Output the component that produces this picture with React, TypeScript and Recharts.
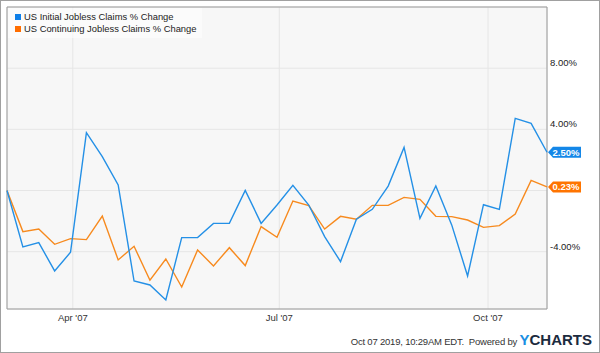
import {
  LineChart, Line, XAxis, YAxis, CartesianGrid,
  ReferenceDot, ReferenceArea,
} from 'recharts';

// week-ending dates (Saturdays)
const WEEKS = [
  '2007-03-03', '2007-03-10', '2007-03-17', '2007-03-24', '2007-03-31',
  '2007-04-07', '2007-04-14', '2007-04-21', '2007-04-28',
  '2007-05-05', '2007-05-12', '2007-05-19', '2007-05-26',
  '2007-06-02', '2007-06-09', '2007-06-16', '2007-06-23', '2007-06-30',
  '2007-07-07', '2007-07-14', '2007-07-21', '2007-07-28',
  '2007-08-04', '2007-08-11', '2007-08-18', '2007-08-25',
  '2007-09-01', '2007-09-08', '2007-09-15', '2007-09-22', '2007-09-29',
  '2007-10-06', '2007-10-13', '2007-10-20', '2007-10-27',
];

const INITIAL = [
  0.0, -3.69, -3.41, -5.26, -4.04, 3.78, 2.21, 0.36, -5.92, -6.18,
  -7.16, -3.08, -3.08, -2.15, -2.15, 0.01, -2.15, -0.95, 0.34, -0.95,
  -3.02, -4.65, -1.88, -1.23, 0.29, 2.82, -1.82, 0.29, -2.25, -5.59,
  -0.93, -1.23, 4.72, 4.39, 2.5,
];

const CONTINUING = [
  0.0, -2.69, -2.52, -3.52, -3.15, -3.21, -1.67, -4.54, -3.65, -5.87,
  -4.48, -6.31, -3.89, -4.93, -3.74, -4.91, -2.36, -3.06, -0.69, -0.99,
  -2.52, -1.69, -1.88, -0.97, -0.97, -0.45, -0.58, -1.69, -1.71, -1.93,
  -2.41, -2.3, -1.54, 0.66, 0.23,
];

const X_TICK_DATES = ['2007-04-01', '2007-07-01', '2007-10-01'];
const X_TICK_LABELS = ["Apr '07", "Jul '07", "Oct '07"];
const Y_TICKS = [-4, 0, 4, 8];

const BLUE = '#2490e6';
const ORANGE = '#f78a1e';
const TAG_BLUE = '#1487e8';
const TAG_ORANGE = '#ff7400';
const FONT = '"Liberation Sans", Arial, sans-serif';

const dayOf = (d: string) => (Date.parse(d) - Date.parse(WEEKS[0])) / 86400000;

const data = WEEKS.map((w, i) => ({
  day: dayOf(w),
  initial: INITIAL[i],
  continuing: CONTINUING[i],
}));

const X_TICKS = X_TICK_DATES.map(dayOf);
const LAST = data[data.length - 1];
const Y_MIN = -7.75;
const Y_MAX = 12;

function XTick({ x, y, payload }: any) {
  const idx = X_TICKS.indexOf(payload.value);
  return (
    <text x={x} y={y + 12} textAnchor="middle" fontSize={9.5} fontFamily={FONT} fill="#333">
      {X_TICK_LABELS[idx]}
    </text>
  );
}

function YTick({ x, y, payload }: any) {
  if (payload.value === 0) return null;
  return (
    <text x={x} y={y - 2} textAnchor="start" fontSize={9.5} fontFamily={FONT} fill="#222">
      {payload.value.toFixed(2)}%
    </text>
  );
}

function makeTag(color: string, text: string) {
  return (p: any) => {
    const { cx, cy } = p;
    return (
      <g>
        <path
          d={`M${cx + 1},${cy} l5,-5.5 h28 v11 h-28 z`}
          fill={color}
        />
        <text
          x={cx + 19} y={cy + 3.5} textAnchor="middle"
          fontSize={9.5} fontWeight="bold" fontFamily={FONT} fill="#fff"
        >
          {text}
        </text>
      </g>
    );
  };
}

const LEGEND_ITEMS = [
  { label: 'US Initial Jobless Claims % Change', color: '#0e7fe8' },
  { label: 'US Continuing Jobless Claims % Change', color: '#ff6d00' },
];

export default function App() {
  return (
    <div style={{ position: 'absolute', left: 0, top: 0, width: 600, height: 353, background: '#fff' }}>
      <LineChart
        width={600}
        height={353}
        data={data}
        margin={{ top: 7, right: 0, left: 7, bottom: 0 }}
      >
        <CartesianGrid stroke="#e6e6e6" fill="#f7f7f7" />
        <XAxis
          dataKey="day" type="number" domain={[0, LAST.day]}
          ticks={X_TICKS} tick={<XTick />} interval={0}
          height={44} tickLine={false} axisLine={false} tickSize={0} tickMargin={0}
        />
        <YAxis
          orientation="right" type="number" domain={[Y_MIN, Y_MAX]}
          ticks={Y_TICKS} tick={<YTick />} interval={0}
          width={53} tickLine={false} axisLine={false} tickSize={0} tickMargin={3}
        />
        <ReferenceArea
          x1={0} x2={LAST.day} y1={Y_MIN} y2={Y_MAX}
          fill="none" stroke="#9a9a9a" strokeWidth={1} ifOverflow="visible"
        />
        <Line
          dataKey="continuing" stroke={ORANGE} strokeWidth={1.4}
          dot={false} isAnimationActive={false}
        />
        <Line
          dataKey="initial" stroke={BLUE} strokeWidth={1.4}
          dot={false} isAnimationActive={false}
        />
        <ReferenceDot
          x={LAST.day} y={LAST.initial} ifOverflow="visible"
          shape={makeTag(TAG_BLUE, `${LAST.initial.toFixed(2)}%`)}
        />
        <ReferenceDot
          x={LAST.day} y={LAST.continuing} ifOverflow="visible"
          shape={makeTag(TAG_ORANGE, `${LAST.continuing.toFixed(2)}%`)}
        />
      </LineChart>

      {/* legend box over the plot's top-left corner */}
      <div
        style={{
          position: 'absolute', left: 8, top: 8,
          background: 'rgba(255,255,255,0.55)',
          padding: '3px 6px 3px 7px',
          fontFamily: FONT, fontSize: 9.4, color: '#222', lineHeight: '12px',
        }}
      >
        {LEGEND_ITEMS.map((it) => (
          <div key={it.label} style={{ display: 'flex', alignItems: 'center' }}>
            <span style={{ width: 6, height: 6, background: it.color, marginRight: 3, display: 'inline-block' }} />
            {it.label}
          </div>
        ))}
      </div>

      <div
        style={{
          position: 'absolute', right: 8, top: 331, display: 'flex',
          alignItems: 'baseline', fontFamily: FONT, color: '#333',
        }}
      >
        <span style={{ fontSize: 9.5, letterSpacing: -0.2 }}>Oct 07 2019, 10:29AM EDT.&nbsp; Powered by&nbsp;</span>
        <span style={{ fontSize: 15, fontWeight: 'bold', color: '#1b2b3e' }}>
          <span style={{ color: '#1a8fe3' }}>Y</span>CHARTS
        </span>
      </div>
      <div
        style={{
          position: 'absolute', left: 0, top: 0, width: 600, height: 353,
          border: '1px solid #a0a0a0', boxSizing: 'border-box', pointerEvents: 'none',
        }}
      />
    </div>
  );
}
